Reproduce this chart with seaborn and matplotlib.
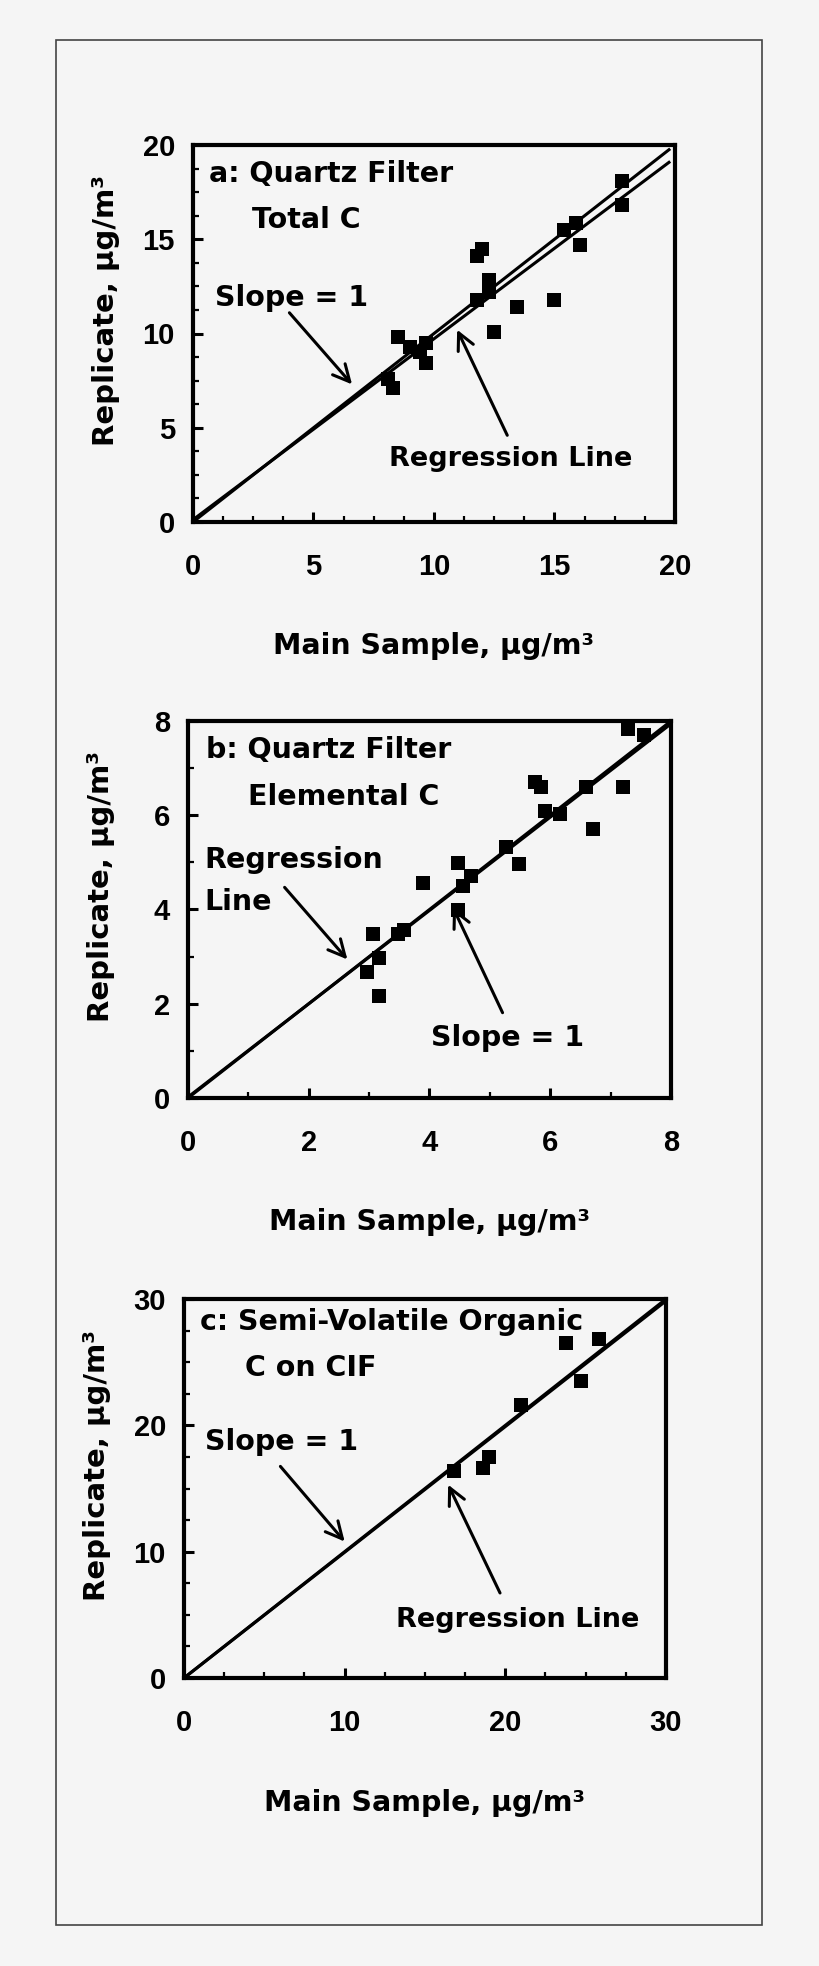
import matplotlib
matplotlib.use("Agg")
import numpy as np
import pandas as pd
import matplotlib.pyplot as plt
import seaborn as sns
from matplotlib.ticker import MultipleLocator, AutoMinorLocator
from matplotlib.patches import Rectangle

# a: quartz filter, total carbon (ug/m3)
a_main = [8.1, 8.3, 8.5, 9.0, 9.4, 9.65, 9.65, 11.8, 12.3, 12.3, 11.8, 12.0,
          12.5, 13.45, 15.0, 15.4, 15.9, 16.05, 17.8, 17.8]
a_rep = [7.6, 7.1, 9.8, 9.3, 9.0, 9.5, 8.45, 11.8, 12.2, 12.85, 14.1, 14.5,
         10.1, 11.4, 11.8, 15.5, 15.85, 14.7, 18.1, 16.8]

# b: quartz filter, elemental carbon
b_main = [2.96, 3.07, 3.17, 3.17, 3.47, 3.58, 3.9, 4.47, 4.47, 4.56, 4.68,
          5.27, 5.48, 5.75, 5.85, 5.92, 6.16, 6.6, 6.7, 7.2, 7.28, 7.56]
b_rep = [2.68, 3.47, 2.98, 2.17, 3.48, 3.56, 4.57, 4.98, 3.98, 4.5, 4.72,
         5.32, 4.96, 6.7, 6.6, 6.1, 6.02, 6.6, 5.7, 6.6, 7.84, 7.7]

# c: semi-volatile organic carbon on CIF
c_main = [16.8, 18.6, 19.0, 21.0, 23.8, 24.7, 25.8]
c_rep = [16.4, 16.6, 17.5, 21.6, 26.5, 23.5, 26.8]

# axis ranges, 1:1 line end and regression (slope, intercept)
limits = [20, 8, 30]
line_end = [19.8, 8, 30]
reg_fit = [(0.96, 0.12), (0.99, 0.02), (0.995, 0.0)]
major_step = [5, 2, 10]
minor_div = [4, 2, 4]

bg = "#f5f5f5"
sns.set_theme(style="ticks")
plt.rcParams["font.family"] = ["DejaVu Sans"]
plt.rcParams["font.weight"] = "bold"
for key in ["text.color", "axes.labelcolor", "xtick.color", "ytick.color",
            "axes.edgecolor"]:
    plt.rcParams[key] = "black"

fig = plt.figure(figsize=(8.2, 19.66), dpi=100, facecolor=bg)
fig.add_artist(Rectangle((56 / 820, 1 - 1925 / 1966), 706 / 820, 1885 / 1966,
                         transform=fig.transFigure, fill=False,
                         edgecolor="#444444", linewidth=1.2))

boxes = [
    [193 / 820, 1 - 522 / 1966, 482 / 820, 377 / 1966],
    [188 / 820, 1 - 1098 / 1966, 483 / 820, 377 / 1966],
    [184 / 820, 1 - 1678 / 1966, 482 / 820, 379 / 1966],
]

data = [(a_main, a_rep), (b_main, b_rep), (c_main, c_rep)]
axes = []
for i, box in enumerate(boxes):
    ax = fig.add_axes(box)
    ax.set_facecolor(bg)
    xm, yr = data[i]
    df = pd.DataFrame({"main": xm, "rep": yr})
    lim = limits[i]
    xs = np.array([0, line_end[i]])
    ax.plot(xs, xs, color="black", lw=2.2, solid_capstyle="butt")
    m, c = reg_fit[i]
    ax.plot(xs, m * xs + c, color="black", lw=2.2, solid_capstyle="butt")
    sns.scatterplot(data=df, x="main", y="rep", marker="s", s=95,
                    color="black", linewidth=0, ax=ax, zorder=3)
    ax.set_xlim(0, lim)
    ax.set_ylim(0, lim)
    ax.xaxis.set_major_locator(MultipleLocator(major_step[i]))
    ax.yaxis.set_major_locator(MultipleLocator(major_step[i]))
    ax.xaxis.set_minor_locator(AutoMinorLocator(minor_div[i]))
    ax.yaxis.set_minor_locator(AutoMinorLocator(minor_div[i]))
    ax.tick_params(which="major", direction="in", length=7, width=2.2,
                   labelsize=21, color="black", labelcolor="black")
    ax.tick_params(which="minor", direction="in", length=4, width=1.6,
                   color="black")
    ax.tick_params(axis="x", which="major", pad=22)
    ax.tick_params(axis="y", which="major", pad=13)
    for lab in ax.get_xticklabels() + ax.get_yticklabels():
        lab.set_family(["Liberation Sans", "DejaVu Sans"])
        lab.set_weight("bold")
    for sp in ax.spines.values():
        sp.set_linewidth(3)
        sp.set_color("black")
    ax.set_xlabel("Main Sample, µg/m³", fontsize=20.5, fontweight="bold",
                  va="center", color="black")
    ax.set_ylabel("Replicate, µg/m³", fontsize=21, fontweight="bold",
                  va="center", color="black")
    ax.xaxis.set_label_coords(0.5, -0.33)
    ax.yaxis.set_label_coords(-0.18, 0.56)
    axes.append(ax)

txt = dict(fontsize=20.5, fontweight="bold", va="center", ha="left",
           color="black")
arrow = dict(arrowstyle="->", color="black", lw=2.2, mutation_scale=30,
             shrinkA=0, shrinkB=0)

ax = axes[0]
ax.text(0.67, 18.45, "a: Quartz Filter", **txt)
ax.text(2.44, 16.0, "Total C", **txt)
ax.text(0.9, 11.9, "Slope = 1", **txt)
ax.annotate("", xy=(6.6, 7.3), xytext=(4.0, 11.1), arrowprops=arrow)
ax.text(8.15, 3.36, "Regression Line", fontsize=19.5, fontweight="bold",
        va="center", ha="left", color="black")
ax.annotate("", xy=(10.96, 10.2), xytext=(13.04, 4.6), arrowprops=arrow)

ax = axes[1]
ax.text(0.3, 7.38, "b: Quartz Filter", **txt)
ax.text(1.0, 6.38, "Elemental C", **txt)
ax.text(0.27, 5.04, "Regression", **txt)
ax.text(0.27, 4.15, "Line", **txt)
ax.annotate("", xy=(2.64, 2.94), xytext=(1.6, 4.47), arrowprops=arrow)
ax.text(4.03, 1.28, "Slope = 1", **txt)
ax.annotate("", xy=(4.39, 4.04), xytext=(5.21, 1.81), arrowprops=arrow)

ax = axes[2]
ax.text(1.0, 28.2, "c: Semi-Volatile Organic", **txt)
ax.text(3.78, 24.5, "C on CIF", **txt)
ax.text(1.33, 18.7, "Slope = 1", **txt)
ax.annotate("", xy=(10.0, 10.8), xytext=(6.0, 16.75), arrowprops=arrow)
ax.text(13.2, 4.6, "Regression Line", fontsize=19.5, fontweight="bold",
        va="center", ha="left", color="black")
ax.annotate("", xy=(16.44, 15.3), xytext=(19.67, 6.73), arrowprops=arrow)

fig.savefig("out.png", dpi=100, facecolor=bg)
